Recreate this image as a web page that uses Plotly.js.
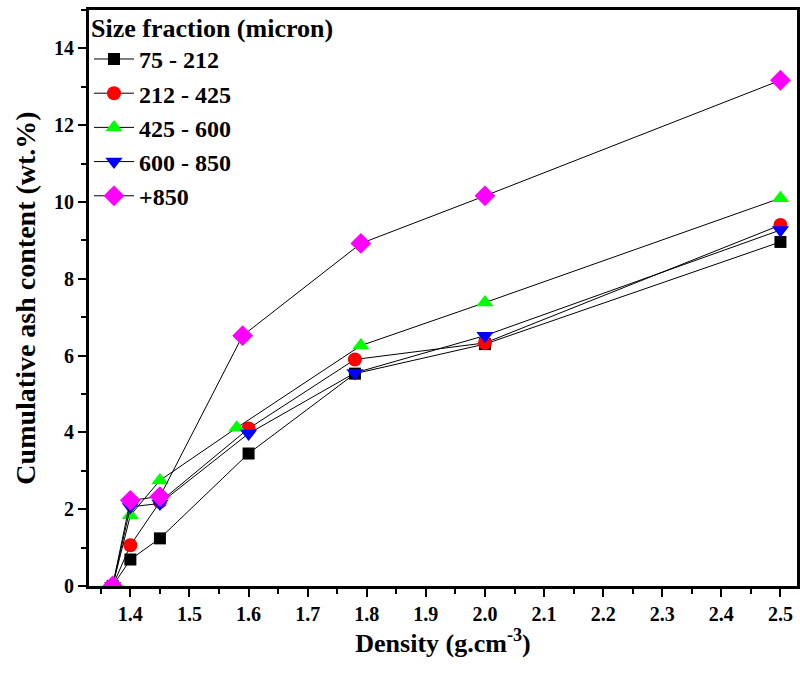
<!DOCTYPE html>
<html>
<head>
<meta charset="utf-8">
<script src="https://cdn.plot.ly/plotly-3.0.1.min.js"></script>
<style>html,body{margin:0;padding:0;background:#fff;}#chart{width:800px;height:677px;}</style>
</head>
<body>
<div id="chart"></div>
<script>
const seriesNames = ["75 - 212", "212 - 425", "425 - 600", "600 - 850", "+850"];
const x_75_212   = [1.37, 1.40, 1.45, 1.60, 1.78, 2.00, 2.50];
const y_75_212   = [0.00, 0.69, 1.24, 3.45, 5.53, 6.30, 8.96];
const x_212_425  = [1.37, 1.40, 1.45, 1.60, 1.78, 2.00, 2.50];
const y_212_425  = [0.00, 1.06, 2.19, 4.10, 5.90, 6.33, 9.40];
const x_425_600  = [1.37, 1.40, 1.45, 1.58, 1.79, 2.00, 2.50];
const y_425_600  = [0.00, 1.84, 2.75, 4.12, 6.26, 7.38, 10.10];
const x_600_850  = [1.37, 1.40, 1.45, 1.60, 1.78, 2.00, 2.50];
const y_600_850  = [0.00, 2.06, 2.15, 3.97, 5.55, 6.52, 9.27];
const x_850      = [1.37, 1.40, 1.45, 1.59, 1.79, 2.00, 2.50];
const y_850      = [0.00, 2.23, 2.33, 6.52, 8.92, 10.16, 13.17];

const xs = [x_75_212, x_212_425, x_425_600, x_600_850, x_850];
const ys = [y_75_212, y_212_425, y_425_600, y_600_850, y_850];
const colors = ["#000000", "#ff0000", "#00ff00", "#0000ff", "#ff00ff"];
const symbols = ["square", "circle", "triangle-up", "triangle-down", "diamond"];
const sizes = [12, 14, 15, 15, 16];

const FONT = "'Liberation Serif', 'Times New Roman', serif";

const traces = seriesNames.map((n, i) => ({
  type: "scatter",
  mode: "lines+markers",
  name: "<b>" + n + "</b>",
  x: xs[i],
  y: ys[i],
  line: {color: "#000000", width: 1},
  marker: {symbol: symbols[i], color: colors[i], size: sizes[i], line: {width: 0}}
}));

const layout = {
  width: 800, height: 677,
  margin: {l: 89, r: 3, t: 8, b: 91},
  paper_bgcolor: "#ffffff",
  plot_bgcolor: "#ffffff",
  font: {family: FONT, color: "#000", size: 20},
  showlegend: true,
  legend: {
    x: 0, y: 1.012, xanchor: "left", yanchor: "top",
    bgcolor: "rgba(0,0,0,0)",
    borderwidth: 0,
    font: {family: FONT, size: 24, color: "#000"},
    title: {text: "<b>Size fraction (micron)</b>", font: {family: FONT, size: 26, color: "#000"}, side: "top"},
    itemwidth: 40,
    tracegroupgap: 0
  },
  xaxis: {
    range: [1.33, 2.528],
    tick0: 1.4, dtick: 0.1,
    tickformat: ".1f",
    ticks: "outside", ticklen: 8, tickwidth: 2, tickcolor: "#000",
    minor: {dtick: 0.05, ticks: "outside", ticklen: 5, tickwidth: 2, tickcolor: "#000"},
    showline: true, linecolor: "#000", linewidth: 3, mirror: true,
    showgrid: false, zeroline: false,
    tickfont: {family: FONT, size: 20, color: "#000", weight: "bold"},
    title: {text: "<b>Density (g.cm<sup>-3</sup>)</b>", font: {family: FONT, size: 26, color: "#000"}, standoff: 8}
  },
  yaxis: {
    range: [0, 15],
    dtick: 2,
    ticks: "outside", ticklen: 8, tickwidth: 2, tickcolor: "#000",
    minor: {dtick: 1, ticks: "outside", ticklen: 5, tickwidth: 2, tickcolor: "#000"},
    showline: true, linecolor: "#000", linewidth: 3, mirror: true,
    showgrid: false, zeroline: false,
    tickfont: {family: FONT, size: 20, color: "#000", weight: "bold"},
    title: {text: "<b>Cumulative ash content (wt.%)</b>", font: {family: FONT, size: 28, color: "#000"}, standoff: 11}
  }
};

Plotly.newPlot("chart", traces, layout, {displayModeBar: false, staticPlot: true});
</script>
</body>
</html>
